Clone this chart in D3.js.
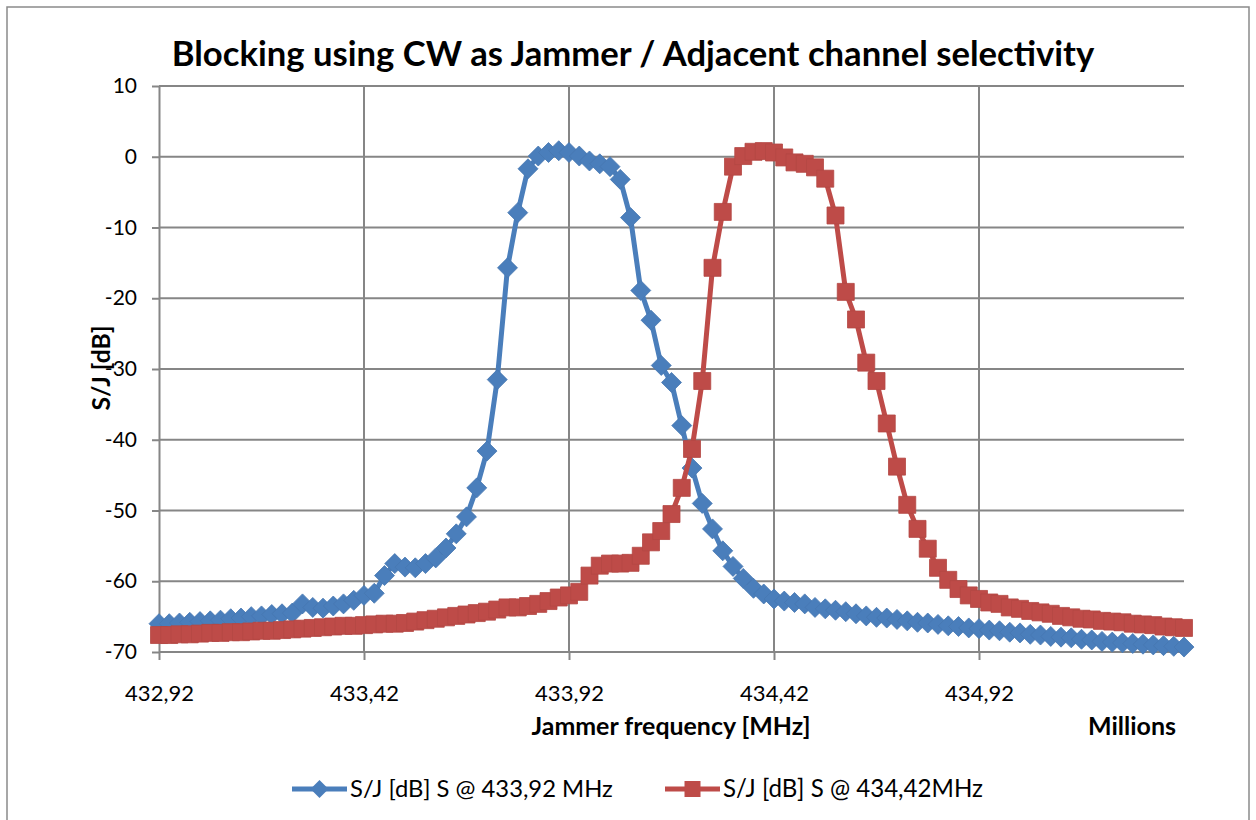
<!DOCTYPE html>
<html>
<head>
<meta charset="utf-8">
<script src="https://cdn.jsdelivr.net/npm/d3@7"></script>
<style>
    body { margin: 0; background: #fff; font-family: Lato, "DejaVu Sans", sans-serif; }
    .grid line { stroke: #868686; stroke-width: 2px; }
    .axis path, .axis line { stroke: #868686; stroke-width: 2px; }
    .axis text { fill: #000; }
</style>
</head>
<body>
<script>
// jammer frequency in MHz (axis shows it as "Millions" of Hz)
const freqMHz = [
    432.920, 432.945, 432.970, 432.995, 433.020, 433.045, 433.070, 433.095, 433.120, 433.145,
    433.170, 433.195, 433.220, 433.245, 433.270, 433.295, 433.320, 433.345, 433.370, 433.395,
    433.420, 433.445, 433.470, 433.495, 433.520, 433.545, 433.570, 433.595, 433.620, 433.645,
    433.670, 433.695, 433.720, 433.745, 433.770, 433.795, 433.820, 433.845, 433.870, 433.895,
    433.920, 433.945, 433.970, 433.995, 434.020, 434.045, 434.070, 434.095, 434.120, 434.145,
    434.170, 434.195, 434.220, 434.245, 434.270, 434.295, 434.320, 434.345, 434.370, 434.395,
    434.420, 434.445, 434.470, 434.495, 434.520, 434.545, 434.570, 434.595, 434.620, 434.645,
    434.670, 434.695, 434.720, 434.745, 434.770, 434.795, 434.820, 434.845, 434.870, 434.895,
    434.920, 434.945, 434.970, 434.995, 435.020, 435.045, 435.070, 435.095, 435.120, 435.145,
    435.170, 435.195, 435.220, 435.245, 435.270, 435.295, 435.320, 435.345, 435.370, 435.395,
    435.420
];
// S/J [dB], signal at 433,92 MHz
const sjAt43392 = [
    -66.0, -66.0, -65.9, -65.8, -65.7, -65.6, -65.5, -65.3, -65.2, -65.0,
    -64.9, -64.7, -64.6, -64.5, -63.2, -63.7, -63.8, -63.5, -63.2, -62.7,
    -62.0, -61.7, -59.2, -57.5, -58.0, -58.1, -57.5, -56.7, -55.3, -53.3,
    -50.9, -46.8, -41.6, -31.5, -15.7, -7.9, -1.7, 0.1, 0.6, 0.85,
    0.6, 0.1, -0.6, -1.0, -1.4, -3.2, -8.6, -18.9, -23.1, -29.5,
    -31.9, -38.0, -44.0, -49.0, -52.6, -55.7, -57.9, -59.6, -61.0, -61.8,
    -62.5, -62.8, -63.0, -63.2, -63.7, -63.9, -64.1, -64.3, -64.6, -64.9,
    -65.1, -65.2, -65.4, -65.6, -65.8, -65.9, -66.1, -66.3, -66.4, -66.6,
    -66.7, -66.9, -67.0, -67.2, -67.3, -67.5, -67.6, -67.8, -67.9, -68.0,
    -68.2, -68.3, -68.5, -68.6, -68.7, -68.8, -68.9, -69.0, -69.1, -69.2,
    -69.3
];
// S/J [dB], signal at 434,42 MHz
const sjAt43442 = [
    -67.6, -67.6, -67.5, -67.5, -67.4, -67.3, -67.3, -67.2, -67.2, -67.1,
    -67.0, -67.0, -66.9, -66.8, -66.7, -66.6, -66.5, -66.4, -66.3, -66.3,
    -66.2, -66.1, -66.0, -66.0, -65.9, -65.7, -65.5, -65.3, -65.1, -64.9,
    -64.7, -64.5, -64.3, -64.0, -63.7, -63.7, -63.5, -63.2, -62.8, -62.3,
    -62.0, -61.5, -59.2, -57.8, -57.5, -57.5, -57.4, -56.4, -54.5, -52.9,
    -50.5, -46.8, -41.3, -31.7, -15.7, -7.8, -1.4, 0.1, 0.7, 0.8,
    0.6, -0.1, -0.8, -1.0, -1.5, -3.1, -8.3, -19.1, -23.0, -29.1,
    -31.7, -37.7, -43.8, -49.2, -52.6, -55.4, -58.1, -59.8, -61.1, -62.0,
    -62.5, -63.0, -63.2, -63.7, -63.9, -64.2, -64.4, -64.6, -64.9, -65.1,
    -65.3, -65.4, -65.6, -65.7, -65.8, -66.0, -66.1, -66.2, -66.4, -66.5,
    -66.6
];
const xTicks = [432.92, 433.42, 433.92, 434.42, 434.92];
const yTicks = [10, 0, -10, -20, -30, -40, -50, -60, -70];
const seriesNames = ['S/J [dB] S @ 433,92 MHz', 'S/J [dB] S @ 434,42MHz'];
const seriesColors = ['#4A7EBB', '#BE4B48'];

const width = 1256, height = 820;
const plot = { left: 159, right: 1184, top: 86, bottom: 652 };

const locale = d3.formatLocale({ decimal: ',', thousands: '.', grouping: [3], currency: ['', ''], minus: '-' });
const fmtX = locale.format('.2f');
const fmtY = locale.format('d');

const x = d3.scaleLinear().domain([432.92, 435.42]).range([plot.left, plot.right]);
const y = d3.scaleLinear().domain([-70, 10]).range([plot.bottom, plot.top]);

const svg = d3.select('body').append('svg')
    .attr('width', width)
    .attr('height', height);

svg.append('rect')
    .attr('x', 7).attr('y', 7)
    .attr('width', 1242).attr('height', 830)
    .attr('fill', '#fff')
    .attr('stroke', '#8a8a8a')
    .attr('stroke-width', 1.5);

// fit a text to the width it takes in the picture
function fitWidth(sel, w) {
    const len = sel.node().getComputedTextLength();
    const fs = parseFloat(sel.attr('font-size'));
    sel.attr('font-size', (fs * w / len).toFixed(2));
}

// gridlines
const grid = svg.append('g').attr('class', 'grid');
grid.selectAll('line.h')
    .data(yTicks.filter(d => d !== -70))
    .join('line').attr('class', 'h')
    .attr('x1', plot.left).attr('x2', plot.right)
    .attr('y1', d => y(d)).attr('y2', d => y(d));
grid.selectAll('line.v')
    .data(xTicks.slice(1))
    .join('line').attr('class', 'v')
    .attr('y1', plot.top).attr('y2', plot.bottom)
    .attr('x1', d => x(d)).attr('x2', d => x(d));

// axes
const yAxis = svg.append('g')
    .attr('class', 'axis')
    .attr('transform', `translate(${plot.left},0)`)
    .call(d3.axisLeft(y).tickValues(yTicks).tickFormat(fmtY).tickSize(7).tickSizeOuter(0).tickPadding(15));
yAxis.selectAll('text').attr('font-size', 21).attr('font-family', 'Lato');

const xAxis = svg.append('g')
    .attr('class', 'axis')
    .attr('transform', `translate(0,${plot.bottom})`)
    .call(d3.axisBottom(x).tickValues(xTicks).tickFormat(fmtX).tickSize(8).tickSizeOuter(0).tickPadding(25));
xAxis.selectAll('text').attr('font-size', 22).attr('font-family', 'Lato');
xAxis.select('.domain').attr('d', `M${plot.left},0H${plot.right}`);

// series
const rows = freqMHz.map((f, i) => ({ f, a: sjAt43392[i], b: sjAt43442[i] }));
const diamond = 'M0,-10L10,0L0,10L-10,0Z';
const square = 'M-8.5,-8.5H8.5V8.5H-8.5Z';

[['a', diamond], ['b', square]].forEach(([key, shape], k) => {
    const line = d3.line().x(d => x(d.f)).y(d => y(d[key]));
    const g = svg.append('g');
    g.append('path')
        .datum(rows)
        .attr('d', line)
        .attr('fill', 'none')
        .attr('stroke', seriesColors[k])
        .attr('stroke-width', 5)
        .attr('stroke-linejoin', 'round');
    g.selectAll('path.mk')
        .data(rows)
        .join('path').attr('class', 'mk')
        .attr('d', shape)
        .attr('transform', d => `translate(${x(d.f)},${y(d[key])})`)
        .attr('fill', seriesColors[k])
        .attr('stroke', d3.color(seriesColors[k]).darker(0.15))
        .attr('stroke-width', 0.8);
});

// texts
const title = svg.append('text')
    .attr('x', 633).attr('y', 66)
    .attr('text-anchor', 'middle')
    .attr('font-weight', 'bold')
    .attr('font-size', 30)
    .text('Blocking using CW as Jammer / Adjacent channel selectivity');
fitWidth(title, 923);

const xTitle = svg.append('text')
    .attr('x', 671).attr('y', 735)
    .attr('text-anchor', 'middle')
    .attr('font-weight', 'bold')
    .attr('font-size', 20)
    .text('Jammer frequency [MHz]');
fitWidth(xTitle, 279);

const units = svg.append('text')
    .attr('x', 1176).attr('y', 735)
    .attr('text-anchor', 'end')
    .attr('font-weight', 'bold')
    .attr('font-size', 20)
    .text('Millions');
fitWidth(units, 88);

const yTitle = svg.append('text')
    .attr('transform', 'translate(110,368) rotate(-90)')
    .attr('text-anchor', 'middle')
    .attr('font-weight', 'bold')
    .attr('font-size', 20)
    .text('S/J [dB]');
fitWidth(yTitle, 85);

// legend
const legendX = [292, 665];
const legendW = [263, 260];
seriesNames.forEach((name, k) => {
    const g = svg.append('g').attr('transform', `translate(${legendX[k]},789)`);
    g.append('line')
        .attr('x1', 0).attr('x2', 55)
        .attr('stroke', seriesColors[k])
        .attr('stroke-width', 5);
    g.append('path')
        .attr('d', k === 0 ? 'M0,-9L9,0L0,9L-9,0Z' : 'M-8,-8H8V8H-8Z')
        .attr('transform', 'translate(27.5,0)')
        .attr('fill', seriesColors[k]);
    const t = g.append('text')
        .attr('x', 58).attr('y', 8)
        .attr('font-size', 20)
        .text(name);
    fitWidth(t, legendW[k]);
});
</script>
</body>
</html>
